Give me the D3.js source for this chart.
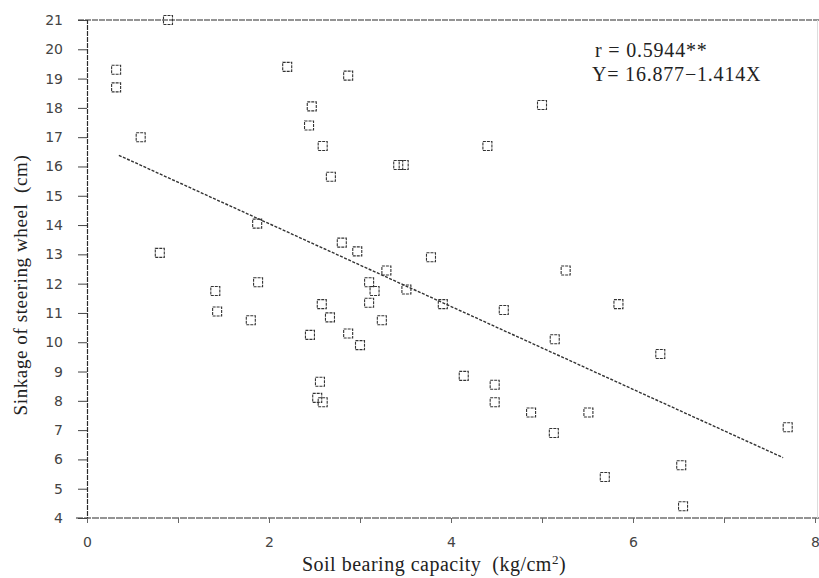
<!DOCTYPE html>
<html>
<head>
<meta charset="utf-8">
<script src="https://cdnjs.cloudflare.com/ajax/libs/d3/7.8.5/d3.min.js"></script>
<style>
  body { margin: 0; background: #fff; }
  svg { display: block; }
  text { white-space: pre; }
</style>
</head>
<body>
<div id="chart"></div>
<script>
const dims = { width: 819, height: 578 };
const margin = { top: 20, right: 4, bottom: 60, left: 87 };

// soil bearing capacity (kg/cm2)
const capacity = [
  0.32, 0.32, 0.89, 0.59, 0.80, 1.41, 1.43, 1.80, 1.88, 1.87,
  2.20, 2.87, 2.47, 2.44, 2.59, 2.68, 3.42, 3.48, 2.80, 2.97,
  3.29, 3.10, 3.16, 3.10, 3.51, 2.58, 2.67, 3.24, 2.45, 2.87,
  3.00, 2.56, 2.53, 2.59, 3.91, 4.58, 5.84, 5.14, 6.30, 4.14,
  4.48, 4.48, 4.88, 5.51, 5.13, 6.53, 5.69, 6.55, 7.70, 5.00,
  4.40, 3.78, 5.26
];
// sinkage of steering wheel (cm)
const sinkage = [
  19.3, 18.7, 21.0, 17.0, 13.05, 11.75, 11.05, 10.75, 12.05, 14.05,
  19.4, 19.1, 18.05, 17.4, 16.7, 15.65, 16.05, 16.05, 13.4, 13.1,
  12.45, 12.05, 11.75, 11.35, 11.8, 11.3, 10.85, 10.75, 10.25, 10.3,
  9.9, 8.65, 8.1, 7.95, 11.3, 11.1, 11.3, 10.1, 9.6, 8.85,
  8.55, 7.95, 7.6, 7.6, 6.9, 5.8, 5.4, 4.4, 7.1, 18.1,
  16.7, 12.9, 12.45
];

const yTicks = d3.range(4, 22);        // 4 .. 21
const xTicks = d3.range(0, 9);         // 0 .. 8
const xLabels = [0, 2, 4, 6, 8];

// regression Y = 16.877 - 1.414X, drawn over the data range
const fit = { a: 16.877, b: -1.414 };
const fitRange = [0.35, 7.65];

const innerH = dims.height - margin.top - margin.bottom;

const svg = d3.select("#chart")
  .append("svg")
  .attr("width", dims.width)
  .attr("height", dims.height);

const x = d3.scaleLinear().domain([0, 8]).range([margin.left, margin.left + 728]);
const y = d3.scaleLinear().domain([4, 21]).range([margin.top + innerH, margin.top]);

const ink = "#2a2a2a";
const serif = "'Liberation Serif', 'DejaVu Serif', serif";
const sans = "'DejaVu Sans', sans-serif";

// frame lines (top and bottom run past the axis, like the scan)
svg.append("line")
  .attr("x1", 78).attr("x2", dims.width)
  .attr("y1", y(21)).attr("y2", y(21))
  .attr("stroke", ink).attr("stroke-width", 1.2)
  .attr("stroke-dasharray", "6,1");
svg.append("line")
  .attr("x1", 76).attr("x2", dims.width)
  .attr("y1", y(4)).attr("y2", y(4))
  .attr("stroke", ink).attr("stroke-width", 1.2)
  .attr("stroke-dasharray", "7,1");
svg.append("line")
  .attr("x1", dims.width - 1.5).attr("x2", dims.width - 1.5)
  .attr("y1", y(21)).attr("y2", y(4))
  .attr("stroke", "#ddd").attr("stroke-width", 1);

// Y axis
const yAxis = d3.axisLeft(y)
  .tickValues(yTicks)
  .tickSize(9)
  .tickPadding(15)
  .tickFormat(d3.format("d"));

const yAxisGroup = svg.append("g")
  .attr("transform", `translate(${margin.left},0)`)
  .call(yAxis);

yAxisGroup.select(".domain")
  .attr("stroke", ink)
  .attr("stroke-width", 1.2)
  .attr("stroke-dasharray", "5,1");
yAxisGroup.selectAll(".tick line").attr("stroke", "#444");
yAxisGroup.selectAll(".tick text")
  .attr("fill", "#444")
  .style("font-family", sans)
  .style("font-size", "14px");

// X axis
const xAxis = d3.axisBottom(x)
  .tickValues(xTicks)
  .tickSize(5)
  .tickPadding(14)
  .tickFormat(d => (xLabels.includes(d) ? d : ""));

const xAxisGroup = svg.append("g")
  .attr("transform", `translate(0,${y(4)})`)
  .call(xAxis);

xAxisGroup.select(".domain").remove();
xAxisGroup.selectAll(".tick line").attr("stroke", "#666");
xAxisGroup.selectAll(".tick text")
  .attr("fill", "#444")
  .style("font-family", sans)
  .style("font-size", "14px");

// regression line
const lineGen = d3.line()
  .x(d => x(d))
  .y(d => y(fit.a + fit.b * d));

svg.append("path")
  .datum(fitRange)
  .attr("d", lineGen)
  .attr("fill", "none")
  .attr("stroke", "#333")
  .attr("stroke-width", 1.4)
  .attr("stroke-dasharray", "3,1.5");

// data points: hollow squares
const pts = capacity.map((c, i) => ({ c: c, s: sinkage[i] }));
const size = 9;

svg.append("g")
  .selectAll("rect")
  .data(pts)
  .enter()
  .append("rect")
  .attr("x", d => x(d.c) - size / 2)
  .attr("y", d => y(d.s) - size / 2)
  .attr("width", size)
  .attr("height", size)
  .attr("fill", "none")
  .attr("stroke", "#333")
  .attr("stroke-width", 1.1)
  .attr("stroke-dasharray", "3,1");

// axis titles
svg.append("text")
  .attr("transform", "translate(27,285) rotate(-90)")
  .attr("text-anchor", "middle")
  .attr("fill", "#222")
  .style("font-family", serif)
  .style("font-size", "19px")
  .style("letter-spacing", "0.6px")
  .text("Sinkage of steering wheel  (cm)");

const xTitle = svg.append("text")
  .attr("x", 434)
  .attr("y", 571)
  .attr("text-anchor", "middle")
  .attr("fill", "#222")
  .style("font-family", serif)
  .style("font-size", "20px")
  .style("letter-spacing", "0.5px");
xTitle.append("tspan").text("Soil bearing capacity  (kg/cm");
xTitle.append("tspan").attr("dy", -7).style("font-size", "13px").text("2");
xTitle.append("tspan").attr("dy", 7).text(")");

// annotation
svg.append("text")
  .attr("x", 595)
  .attr("y", 57)
  .attr("fill", "#222")
  .style("font-family", serif)
  .style("font-size", "20px")
  .style("letter-spacing", "0.8px")
  .text("r = 0.5944**");

svg.append("text")
  .attr("x", 592)
  .attr("y", 81)
  .attr("fill", "#222")
  .style("font-family", serif)
  .style("font-size", "20px")
  .style("letter-spacing", "0.8px")
  .text("Y= 16.877\u22121.414X");
</script>
</body>
</html>
